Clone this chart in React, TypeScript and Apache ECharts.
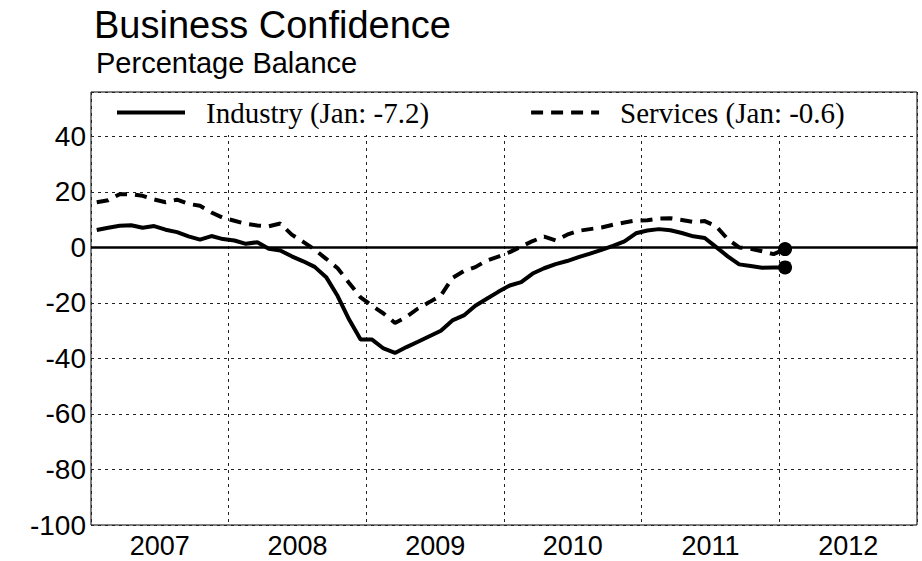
import React, { useEffect, useRef } from "react";
import * as echarts from "echarts";

const years = ["2007", "2008", "2009", "2010", "2011", "2012"];
const yTicks = [-100, -80, -60, -40, -20, 0, 20, 40];
const legendNames = ["Industry (Jan: -7.2)", "Services (Jan: -0.6)"];

// monthly values, Jan 2007 .. Jan 2012
const industry = [
  6.3, 7.1, 7.8, 8.0, 7.1, 7.7, 6.4, 5.5, 4.0, 2.8, 4.1, 3.0,
  2.5, 1.3, 1.9, -0.5, -1.1, -3.2, -5.0, -7.0, -10.7, -17.5, -26.0, -33.2,
  -33.2, -36.4, -38.0, -35.9, -34.0, -32.0, -30.0, -26.3, -24.5, -21.0, -18.5, -16.0,
  -13.7, -12.5, -9.4, -7.5, -6.0, -4.9, -3.5, -2.2, -0.9, 0.6, 2.2, 5.1,
  6.1, 6.6, 6.2, 5.2, 4.0, 3.4, 0.1, -3.2, -6.1, -6.7, -7.3, -7.2,
  -7.2,
];
const services = [
  16.3, 17.0, 19.2, 19.2, 18.6, 17.3, 16.3, 17.2, 15.7, 15.0, 12.6, 10.7,
  9.6, 8.5, 7.9, 7.6, 8.6, 4.6, 2.0, -0.8, -4.1, -7.5, -12.8, -18.0,
  -21.0, -23.8, -27.2, -25.0, -22.0, -19.7, -17.3, -11.0, -8.5, -7.1, -4.7, -3.3,
  -1.7, 0.3, 2.3, 3.9, 2.5, 4.6, 6.0, 6.6, 7.2, 8.2, 9.0, 9.7,
  9.8, 10.4, 10.5, 9.9, 9.2, 9.5, 7.6, 3.0, 0.0, -0.5, -1.4, -2.4,
  -0.6,
];

const toPoints = (vals: number[]) => vals.map((v, i) => [i + 0.5, v]);
const lastPoint = (vals: number[]) => [vals.length - 0.5, vals[vals.length - 1]];

export default function App() {
  const ref = useRef<HTMLDivElement>(null);
  useEffect(() => {
    if (!ref.current) return;
    const chart = echarts.init(ref.current, undefined, { renderer: "svg" });
    const sans = "Liberation Sans, Arial, sans-serif";
    const serif = "Liberation Serif, Times New Roman, serif";
    chart.setOption({
      animation: false,
      backgroundColor: "#fff",
      title: [
        {
          text: "Business Confidence",
          left: 94,
          top: 8,
          padding: 0,
          textStyle: { fontFamily: sans, fontSize: 38, lineHeight: 34, fontWeight: "normal", color: "#000" },
        },
        {
          text: "Percentage Balance",
          left: 96,
          top: 49,
          padding: 0,
          textStyle: { fontFamily: sans, fontSize: 29, lineHeight: 28, fontWeight: "normal", color: "#000" },
        },
      ],
      legend: {
        left: 110,
        top: 93,
        z: 20,
        itemWidth: 68,
        itemHeight: 14,
        itemGap: 100,
        data: legendNames,
        lineStyle: { width: 4 },
        itemStyle: { opacity: 0 },
        textStyle: { fontFamily: serif, fontSize: 29, color: "#000", padding: [0, 0, 0, 16] },
      },
      grid: {
        left: 91,
        right: 5,
        top: 92,
        bottom: 36,
        show: true,
        borderColor: "#000",
        borderWidth: 1,
      },
      graphic: [
        {
          type: "rect",
          z: 10,
          shape: { x: 92, y: 93, width: 824, height: 42 },
          style: { fill: "#fff" },
        },
      ],
      xAxis: {
        type: "value",
        min: 0,
        max: 72,
        interval: 12,
        axisLine: { show: false },
        axisTick: { show: false },
        splitLine: { show: true, lineStyle: { color: "#222", width: 1, type: [3, 4] } },
        axisLabel: {
          customValues: [6, 18, 30, 42, 54, 66],
          formatter: (v: number) => years[Math.round((v - 6) / 12)] ?? "",
          fontFamily: sans,
          fontSize: 27,
          lineHeight: 27,
          color: "#000",
          margin: 7,
        },
      },
      yAxis: {
        type: "value",
        min: -100,
        max: 56,
        interval: 20,
        axisLine: { show: false },
        axisTick: { show: false },
        splitLine: { show: true, lineStyle: { color: "#222", width: 1, type: [3, 4] } },
        axisLabel: {
          customValues: yTicks,
          formatter: (v: number) => String(v),
          fontFamily: sans,
          fontSize: 28,
          color: "#000",
          margin: 5,
        },
      },
      series: [
        {
          name: legendNames[0],
          type: "line",
          z: 20,
          data: toPoints(industry),
          symbol: "none",
          lineStyle: { color: "#000", width: 4, type: "solid" },
          itemStyle: { color: "#000" },
          markLine: {
            silent: true,
            symbol: "none",
            label: { show: false },
            lineStyle: { color: "#000", width: 2.5, type: "solid" },
            data: [{ yAxis: 0 }],
          },
        },
        {
          name: legendNames[1],
          type: "line",
          z: 20,
          data: toPoints(services),
          symbol: "none",
          lineStyle: { color: "#000", width: 4, type: [12, 8] },
          itemStyle: { color: "#000" },
        },
        {
          name: "end",
          type: "scatter",
          z: 21,
          symbol: "circle",
          symbolSize: 14,
          itemStyle: { color: "#000", opacity: 1 },
          data: [lastPoint(industry), lastPoint(services)],
        },
      ],
    });
    return () => chart.dispose();
  }, []);
  return <div ref={ref} style={{ width: 922, height: 561, position: "absolute", left: 0, top: 0 }} />;
}
